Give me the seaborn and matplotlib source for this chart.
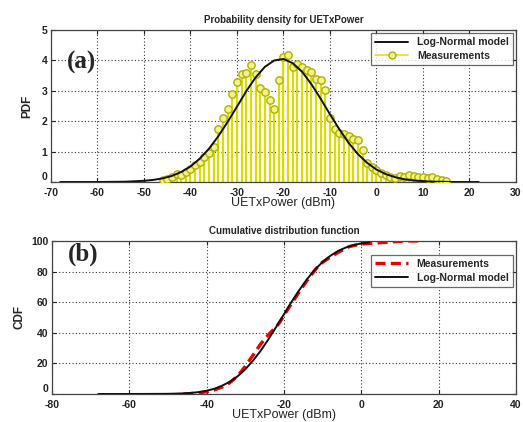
import numpy as np
import pandas as pd
import matplotlib
matplotlib.use("Agg")
import matplotlib.pyplot as plt
from matplotlib.lines import Line2D
import seaborn as sns

# ---------------- data ----------------
meas_x = list(range(-46, 16))
meas_pdf = [0.05, 0.10, 0.15, 0.28, 0.22, 0.32, 0.42, 0.55, 0.65, 0.82,
            0.95, 1.15, 1.75, 2.10, 2.40, 2.90, 3.30, 3.55, 3.60, 3.85,
            3.55, 3.10, 2.95, 2.70, 2.40, 3.35, 4.12, 4.17, 3.78, 3.90,
            3.78, 3.68, 3.62, 3.38, 3.35, 3.02, 2.12, 1.75, 1.62, 1.58,
            1.50, 1.42, 1.38, 1.05, 0.62, 0.48, 0.40, 0.29, 0.23, 0.18,
            0.12, 0.20, 0.15, 0.22, 0.20, 0.15, 0.17, 0.12, 0.15, 0.09,
            0.07, 0.03]

model_x = [-68, -60, -54, -50, -48, -46, -44, -42, -40, -38, -36, -34, -32,
           -30, -28, -26, -24, -22, -20, -18, -16, -14, -12, -10, -8, -6,
           -4, -2, 0, 2, 4, 6, 8, 10, 12, 14, 16, 22]
model_pdf = [0.00, 0.00, 0.01, 0.04, 0.07, 0.12, 0.20, 0.33, 0.51, 0.77,
             1.10, 1.51, 1.98, 2.48, 2.99, 3.44, 3.79, 4.00, 4.05, 3.91,
             3.63, 3.22, 2.74, 2.23, 1.74, 1.29, 0.92, 0.63, 0.41, 0.26,
             0.16, 0.09, 0.05, 0.03, 0.01, 0.01, 0.00, 0.00]

meas_cdf = [0.05, 0.15, 0.3, 0.6, 0.8, 1.1, 1.5, 2.1, 2.7, 3.6,
            4.5, 5.7, 7.4, 9.5, 11.9, 14.8, 18.1, 21.7, 25.3, 29.1,
            32.7, 35.8, 38.7, 41.4, 43.8, 47.2, 51.3, 55.4, 59.2, 63.1,
            66.9, 70.6, 74.2, 77.6, 80.9, 84.0, 86.1, 87.8, 89.4, 91.0,
            92.5, 93.9, 95.3, 96.4, 97.0, 97.5, 97.9, 98.2, 98.4, 98.6,
            98.7, 98.9, 99.0, 99.3, 99.5, 99.6, 99.8, 99.9, 100.0, 100.0,
            100.0, 100.0]

model_cdf_x = [-68, -60, -50, -46, -44, -42, -40, -38, -36, -34, -32, -30,
               -28, -26, -24, -22, -20, -18, -16, -14, -12, -10, -8, -6,
               -4, -2, 0, 2]
model_cdf = [0.0, 0.0, 0.1, 0.4, 0.7, 1.25, 2.1, 3.4, 5.4, 8.0, 11.5, 16.1,
             21.8, 28.3, 35.8, 43.8, 52.1, 60.3, 68.0, 75.1, 81.2, 86.3,
             90.3, 93.5, 95.7, 97.3, 98.4, 99.0]

pdf_xticks = list(range(-70, 31, 10))
pdf_yticks = [0, 1, 2, 3, 4, 5]
cdf_xticks = list(range(-80, 41, 20))
cdf_yticks = [0, 20, 40, 60, 80, 100]

# ---------------- style ----------------
sns.set_theme(style="white")
plt.rcParams['font.family'] = ['Liberation Sans', 'DejaVu Sans']
plt.rcParams['axes.unicode_minus'] = False
plt.rcParams['xtick.direction'] = 'in'
plt.rcParams['ytick.direction'] = 'in'

fig = plt.figure(figsize=(5.23, 4.22), dpi=100)
fig.patch.set_facecolor('white')
ax1 = fig.add_axes([0.0975, 0.5687, 0.889, 0.360])
ax2 = fig.add_axes([0.0994, 0.0664, 0.887, 0.3626])

grid_kw = dict(color='#333333', linestyle=(0, (1, 2)), linewidth=0.8)

def style_axes(ax):
    ax.set_facecolor('white')
    for s in ax.spines.values():
        s.set_visible(True)
        s.set_color('#444444')
        s.set_linewidth(0.9)
    ax.grid(True, **grid_kw)
    ax.tick_params(axis='both', labelsize=7.5, length=3, width=0.8,
                   pad=2.5, colors='#222222', top=True, right=True,
                   bottom=True, left=True)
    ax.tick_params(axis='x', pad=4.5)
    for lab in ax.get_xticklabels() + ax.get_yticklabels():
        lab.set_fontweight('bold')
    ax.get_yticklabels()[0].set_verticalalignment('bottom')

# ---------------- top: PDF ----------------
stem_col = '#dcdc00'
df_m = pd.DataFrame({'x': meas_x, 'y': meas_pdf})
df_model = pd.DataFrame({'x': model_x, 'y': model_pdf})

ax1.vlines(df_m['x'], 0, df_m['y'], color=stem_col, linewidth=1.6, zorder=2)
sns.scatterplot(data=df_m, x='x', y='y', ax=ax1, marker='o', s=28,
                facecolor='#f2f28a', edgecolor='#b0b000', linewidth=1.0,
                zorder=3, legend=False)
sns.lineplot(data=df_model, x='x', y='y', ax=ax1, color='#111111',
             linewidth=1.4, zorder=4, legend=False)

ax1.set_xlim(-70, 30)
ax1.set_ylim(0, 5)
ax1.set_xticks(pdf_xticks)
ax1.set_yticks(pdf_yticks)
ax1.set_xlabel('UETxPower (dBm)', fontsize=9, labelpad=-1)
ax1.set_ylabel('PDF', fontsize=8.5, fontweight='bold', labelpad=6)
ax1.set_title('Probability density for UETxPower', fontsize=7,
              fontweight='bold', pad=5)
style_axes(ax1)
h1 = [Line2D([], [], color='#111111', linewidth=1.4),
      Line2D([], [], color=stem_col, linewidth=1.1, marker='o',
             markersize=5, markerfacecolor='#f2f28a',
             markeredgecolor='#b0b000')]
leg1 = ax1.legend(h1, ['Log-Normal model', 'Measurements'], loc='upper right',
                  frameon=True, fancybox=False,
                  borderaxespad=0.3, handlelength=3.2, borderpad=0.4,
                  labelspacing=0.35, prop={'weight': 'bold', 'size': 7.5})
leg1.get_frame().set_edgecolor('#444444')
leg1.get_frame().set_linewidth(0.9)
ax1.text(0.034, 0.79, '(a)', transform=ax1.transAxes, fontsize=18,
         fontweight='bold', family='Liberation Serif', va='center',
         ha='left', zorder=6)

# ---------------- bottom: CDF ----------------
df_mc = pd.DataFrame({'x': meas_x, 'y': meas_cdf})
df_modc = pd.DataFrame({'x': model_cdf_x, 'y': model_cdf})
sns.lineplot(data=df_mc, x='x', y='y', ax=ax2, color='#ee0000',
             linewidth=2.4, linestyle=(0, (3, 1.6)), zorder=3, legend=False)
sns.lineplot(data=df_modc, x='x', y='y', ax=ax2, color='#111111',
             linewidth=1.4, zorder=4, legend=False)
ax2.set_xlim(-80, 40)
ax2.set_ylim(0, 100)
ax2.set_xticks(cdf_xticks)
ax2.set_yticks(cdf_yticks)
ax2.set_xlabel('UETxPower (dBm)', fontsize=9, labelpad=-1)
ax2.set_ylabel('CDF', fontsize=8.5, fontweight='bold', labelpad=4)
ax2.set_title('Cumulative distribution function', fontsize=7,
              fontweight='bold', pad=5)
style_axes(ax2)
h2 = [Line2D([], [], color='#ee0000', linewidth=2.4, linestyle=(0, (3, 1.6))),
      Line2D([], [], color='#111111', linewidth=1.4)]
leg2 = ax2.legend(h2, ['Measurements', 'Log-Normal model'], loc='upper right',
                  frameon=True, fancybox=False, borderaxespad=0.3,
                  handlelength=3.2, borderpad=0.4, labelspacing=0.35,
                  bbox_to_anchor=(1.0, 0.93),
                  prop={'weight': 'bold', 'size': 7.5})
leg2.get_frame().set_edgecolor('#444444')
leg2.get_frame().set_linewidth(0.9)
ax2.text(0.034, 0.91, '(b)', transform=ax2.transAxes, fontsize=18,
         fontweight='bold', family='Liberation Serif', va='center',
         ha='left', zorder=6)

fig.savefig('out.png', dpi=100, facecolor='white')
